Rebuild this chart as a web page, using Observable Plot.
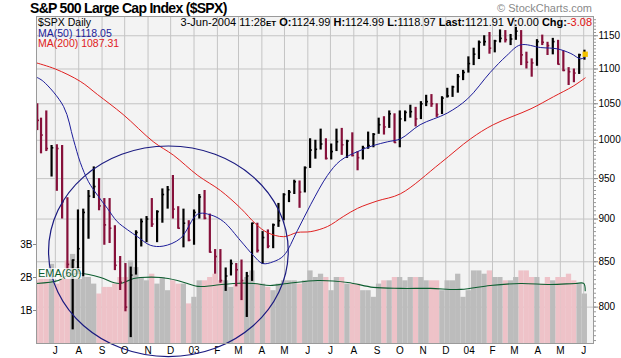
<!DOCTYPE html>
<html><head><meta charset="utf-8">
<script src="https://cdn.jsdelivr.net/npm/d3@7"></script>
<script src="https://cdn.jsdelivr.net/npm/@observablehq/plot@0.6"></script>
<style>
body{margin:0;background:#fff;font-family:"Liberation Sans",Arial,sans-serif;}
#wrap{position:relative;width:621px;height:358px;overflow:hidden;background:#fff;}
#wrap svg{position:absolute;left:0;top:0;}
.t{position:absolute;white-space:nowrap;line-height:1;}
</style></head><body>
<div id="wrap"></div>
<script>
// ---------- data (weekly bars) ----------
const weekDates = ["2002-06-07","2002-06-12","2002-06-19","2002-06-26","2002-07-03","2002-07-10","2002-07-17","2002-07-24","2002-07-31","2002-08-07","2002-08-14","2002-08-21","2002-08-28","2002-09-04","2002-09-11","2002-09-18","2002-09-25","2002-10-02","2002-10-09","2002-10-16","2002-10-23","2002-10-30","2002-11-06","2002-11-13","2002-11-20","2002-11-27","2002-12-04","2002-12-11","2002-12-18","2002-12-25",
"2003-01-01","2003-01-08","2003-01-15","2003-01-22","2003-01-29","2003-02-05","2003-02-12","2003-02-19","2003-02-26","2003-03-05","2003-03-12","2003-03-19","2003-03-26","2003-04-02","2003-04-09","2003-04-16","2003-04-23","2003-04-30","2003-05-07","2003-05-14","2003-05-21","2003-05-28","2003-06-04","2003-06-11","2003-06-18","2003-06-25","2003-07-02","2003-07-09","2003-07-16","2003-07-23","2003-07-30","2003-08-06","2003-08-13","2003-08-20","2003-08-27","2003-09-03","2003-09-10","2003-09-17","2003-09-24","2003-10-01","2003-10-08","2003-10-15","2003-10-22","2003-10-29","2003-11-05","2003-11-12","2003-11-19","2003-11-26","2003-12-03","2003-12-10","2003-12-17","2003-12-24","2003-12-31",
"2004-01-07","2004-01-14","2004-01-21","2004-01-28","2004-02-04","2004-02-11","2004-02-18","2004-02-25","2004-03-03","2004-03-10","2004-03-17","2004-03-24","2004-03-31","2004-04-07","2004-04-14","2004-04-21","2004-04-28","2004-05-05","2004-05-12","2004-05-19","2004-05-26","2004-06-02"];
const weekHigh = [1050,1030,1040,993,994,993,926,852,911,912,935,965,950,925,925,892,856,848,844,886,900,903,925,910,937,940,954,915,912,898,
911,930,935,906,864,864,843,852,848,852,838,895,895,885,887,894,919,931,935,948,947,965,1002,1000,1015,1002,995,1015,1016,1000,1010,985,992,1011,1009,1030,1032,1040,1036,1040,1040,1048,1045,1053,1062,1063,1050,1060,1072,1075,1092,1098,1118,
1131,1142,1150,1155,1143,1159,1158,1152,1163,1158,1125,1115,1144,1151,1140,1146,1143,1127,1102,1100,1122,1128];
const weekLow = [1013,982,985,952,934,900,840,776,837,833,876,925,910,869,871,840,818,795,768,835,867,872,890,872,895,912,900,888,866,873,
869,900,899,860,836,826,817,834,822,807,789,828,860,847,865,865,890,898,920,930,913,932,963,975,987,974,974,985,980,976,978,960,974,988,990,1008,1007,1016,996,990,1025,1030,1018,1028,1046,1045,1031,1035,1058,1059,1065,1083,1094,
1105,1114,1134,1122,1124,1139,1139,1135,1143,1105,1100,1088,1104,1135,1120,1121,1106,1096,1076,1080,1092,1113];
const weekClose = [1027,1007,989,990,989,921,847,852,865,908,928,940,916,893,889,846,827,800,835,884,897,900,894,909,930,936,912,889,895,875,
908,927,901,861,856,829,834,848,841,829,834,895,863,878,868,893,898,930,933,946,933,964,987,988,995,976,985,998,994,999,980,977,990,993,1008,1021,1018,1036,997,1029,1038,1039,1029,1050,1053,1050,1035,1058,1061,1074,1089,1095,1108,
1122,1140,1141,1131,1142,1146,1144,1145,1157,1121,1110,1109,1141,1140,1135,1141,1107,1098,1096,1094,1121,1122];
// volume, billions of shares (visible top of each week's bars)
const weekVolume = [1.9,2.0,2.0,2.4,1.8,2.1,2.5,2.7,2.3,2.0,2.0,1.8,1.5,1.7,1.7,1.8,2.0,2.0,2.5,2.3,2.0,1.9,2.1,1.8,2.0,1.6,1.9,1.8,1.8,1.2,
1.4,1.9,1.9,2.0,2.1,1.9,1.9,1.7,1.8,1.9,2.0,2.2,1.8,1.8,1.7,1.6,1.8,1.9,1.9,1.9,1.8,1.9,2.2,2.0,2.1,2.0,1.6,2.0,2.0,1.8,1.8,1.8,1.6,1.6,1.4,1.8,1.9,1.9,2.0,2.0,1.9,2.0,2.0,2.0,1.9,1.9,1.9,1.6,1.9,1.9,2.1,1.4,1.6,
2.2,2.2,2.1,2.2,2.0,2.0,1.9,1.9,2.0,2.2,2.2,2.0,2.0,1.8,2.0,1.9,2.0,2.0,2.1,1.9,1.8,1.5];

const ma50Dates = ["2002-06-06","2002-06-15","2002-07-12","2002-07-25","2002-08-03","2002-08-14","2002-08-26","2002-09-08","2002-09-21","2002-10-05","2002-10-18","2002-11-04","2002-11-21","2002-12-14","2003-01-06","2003-01-23","2003-02-09","2003-03-04","2003-03-21","2003-04-02","2003-04-16","2003-04-30","2003-05-18","2003-06-05","2003-06-27","2003-07-14","2003-08-06","2003-08-27","2003-09-15","2003-10-02","2003-10-28","2003-12-03","2003-12-30","2004-01-29","2004-02-20","2004-03-09","2004-04-05","2004-04-27","2004-05-15","2004-05-28","2004-06-03"];
const ma50Values = [1088,1082,1046,1001,971,946,929,913,897,887,879,869,868,877,906,905,897,874,857,848,850,857,886,918,954,973,985,993,998,1002,1021,1037,1057,1095,1120,1136,1132,1130,1123,1115,1118];

const ma200Dates = ["2002-06-06","2002-07-01","2002-08-03","2002-08-26","2002-09-29","2002-11-08","2002-12-05","2003-01-06","2003-02-05","2003-03-04","2003-03-24","2003-04-08","2003-04-30","2003-05-18","2003-06-05","2003-06-27","2003-07-18","2003-08-06","2003-09-01","2003-10-02","2003-11-24","2004-01-03","2004-02-02","2004-03-23","2004-04-22","2004-05-18","2004-06-03"];
const ma200Values = [1109,1100,1082,1063,1035,998,980,954,935,913,894,884,879,884,885,891,903,913,922,931,970,1002,1021,1043,1060,1075,1087];

const emaDates = ["2002-06-06","2002-07-05","2002-07-17","2002-08-03","2002-08-30","2002-09-16","2002-09-25","2002-10-13","2002-10-22","2002-11-18","2002-12-10","2003-01-06","2003-01-27","2003-02-22","2003-03-21","2003-04-12","2003-05-05","2003-06-14","2003-07-24","2003-08-27","2003-10-02","2003-11-11","2003-12-21","2004-01-29","2004-03-09","2004-04-18","2004-05-21","2004-06-01","2004-06-03"];
const emaValues = [1.82,1.91,2.06,2.12,2.00,1.85,1.82,1.97,2.00,2.00,1.91,1.73,1.76,1.82,1.82,1.76,1.82,1.91,1.85,1.70,1.67,1.67,1.64,1.76,1.82,1.79,1.82,1.82,1.60];

const priceTicks = [800,850,900,950,1000,1050,1100,1150];
const volumeTicks = [1,2,3];
const volumeTickLabels = ["1B","2B","3B"];
const monthTicks = ["2002-07-01","2002-08-01","2002-09-01","2002-10-01","2002-11-01","2002-12-01","2003-01-01","2003-02-01","2003-03-01","2003-04-01","2003-05-01","2003-06-01","2003-07-01","2003-08-01","2003-09-01","2003-10-01","2003-11-01","2003-12-01","2004-01-01","2004-02-01","2004-03-01","2004-04-01","2004-05-01","2004-06-01"];
const monthLabels = ["J","A","S","O","N","D","03","F","M","A","M","J","J","A","S","O","N","D","04","F","M","A","M","J"];
const circleCenter = {date:"2002-11-28", price:862};
const lastQuote = {date:"2004-06-03", price:1121.91};

// ---------- build ----------
const weekly = weekDates.map((d,i)=>({date:new Date(d),hi:weekHigh[i],lo:weekLow[i],close:weekClose[i],vol:weekVolume[i],
  up: i>0 ? weekClose[i] > weekClose[i-1] : false}));
const ma50 = ma50Dates.map((d,i)=>({date:new Date(d),v:ma50Values[i]}));
const ma200 = ma200Dates.map((d,i)=>({date:new Date(d),v:ma200Values[i]}));
const ema = emaDates.map((d,i)=>({date:new Date(d),v:emaValues[i]}));
const monthDates = monthTicks.map(d=>new Date(d));
const minorTicks = d3.range(765,1180,5);

const W=621,H=358;
const base = {width:W,height:H,marginTop:16,marginBottom:15,marginLeft:36,marginRight:28,
  style:{background:"transparent",fontFamily:"'Liberation Sans',Arial,sans-serif",fontSize:"10px",color:"#000",overflow:"visible"}};
const xScale = {type:"utc",domain:[new Date("2002-06-06"),new Date("2004-06-14")],axis:null};
const yPrice = {type:"log",domain:[762,1180],axis:null};
const yVol = {type:"linear",domain:[0,9.91],axis:null};

const layer1 = Plot.plot({...base,x:xScale,y:yPrice,marks:[
  Plot.frame({fill:"#f3f3f3",stroke:null}),
  Plot.ruleY(priceTicks,{stroke:"#c4c4c4"}),
  Plot.ruleX(monthDates,{stroke:"#c4c4c4"}),
  Plot.axisY(minorTicks,{anchor:"right",tickSize:2,tickFormat:()=>"",stroke:"#999",label:null}),
  Plot.axisY(priceTicks,{anchor:"right",tickSize:4,tickPadding:1,tickFormat:d=>String(d),fontSize:10,stroke:"#888",label:null}),
  Plot.axisX(monthDates,{anchor:"bottom",tickSize:0,tickPadding:3,fontSize:10,label:null,
    tickFormat:d=>monthLabels[monthDates.findIndex(t=>+t===+d)]})
]});

const weekStart = d=>d3.utcWeek.floor(d.date);
const weekEnd = d=>d3.utcWeek.offset(d3.utcWeek.floor(d.date),1);
const layer2 = Plot.plot({...base,x:xScale,y:yVol,marks:[
  Plot.rect(weekly,{filter:d=>!d.up,x1:weekStart,x2:weekEnd,y1:0,y2:"vol",fill:"#eec2c8",clip:true}),
  Plot.rect(weekly,{filter:d=>d.up,x1:weekStart,x2:weekEnd,y1:0,y2:"vol",fill:"#bcbcbc",clip:true}),
  Plot.line(ema,{x:"date",y:"v",stroke:"#0d5e30",strokeWidth:1.1,curve:"catmull-rom"}),
  Plot.axisY(volumeTicks,{anchor:"left",tickSize:3,tickPadding:1,fontSize:10,stroke:"#888",label:null,
    tickFormat:d=>volumeTickLabels[volumeTicks.indexOf(d)]})
]});

const ellipse = {draw(ctx,size){const r=Math.sqrt(size/Math.PI);const rx=r*1.07,ry=r*0.94,k=0.5523;
  ctx.moveTo(rx,0);ctx.bezierCurveTo(rx,ry*k,rx*k,ry,0,ry);ctx.bezierCurveTo(-rx*k,ry,-rx,ry*k,-rx,0);
  ctx.bezierCurveTo(-rx,-ry*k,-rx*k,-ry,0,-ry);ctx.bezierCurveTo(rx*k,-ry,rx,-ry*k,rx,0);ctx.closePath();}};

const closeTickEnd = d=>d3.utcDay.offset(d.date,3);
const layer3 = Plot.plot({...base,x:xScale,y:yPrice,marks:[
  Plot.ruleX(weekly,{filter:d=>!d.up,x:"date",y1:"lo",y2:"hi",stroke:"#86103a",strokeWidth:2.2}),
  Plot.ruleX(weekly,{filter:d=>d.up,x:"date",y1:"lo",y2:"hi",stroke:"#000",strokeWidth:2.2}),
  Plot.ruleY(weekly,{filter:d=>!d.up,x1:"date",x2:closeTickEnd,y:"close",stroke:"#86103a",strokeWidth:1.6}),
  Plot.ruleY(weekly,{filter:d=>d.up,x1:"date",x2:closeTickEnd,y:"close",stroke:"#000",strokeWidth:1.6}),
  Plot.line(ma200,{x:"date",y:"v",stroke:"#e02020",strokeWidth:1,curve:"catmull-rom"}),
  Plot.line(ma50,{x:"date",y:"v",stroke:"#1d1d9a",strokeWidth:1,curve:"catmull-rom"}),
  Plot.dot([circleCenter],{x:d=>new Date(d.date),y:"price",r:112,symbol:ellipse,fill:"none",stroke:"#1a1a80",strokeWidth:1.2}),
  Plot.dot([lastQuote],{x:d=>new Date(d.date),y:"price",r:3,symbol:"square",fill:"#f2c200",stroke:null}),
  Plot.frame({stroke:"#9a9a9a"})
]});

const wrap = document.getElementById("wrap");
wrap.append(layer1,layer2,layer3);

function addText(html,css){const s=document.createElement("div");s.className="t";s.innerHTML=html;Object.assign(s.style,css);wrap.append(s);}
addText("S&amp;P 500 Large Cap Index ($SPX)",{left:"30px",top:"1px",fontWeight:"bold",fontSize:"14px",letterSpacing:"-0.7px",color:"#000"});
addText("© StockCharts.com",{right:"29px",top:"3px",fontSize:"11px",color:"#8a8a8a"});
addText("$SPX Daily",{left:"38px",top:"17px",fontSize:"10.5px",color:"#000"});
addText("3-Jun-2004 11:28<b style='font-size:8px'>ET</b> <b>O:</b>1124.99 <b>H:</b>1124.99 <b>L:</b>1118.97 <b>Last:</b>1121.91 <b>V:</b>0.00 <b>Chg:</b><span style='color:#e01010'>-3.08</span>",
  {right:"29px",top:"17px",fontSize:"11px",color:"#000"});
addText("MA(50) 1118.05",{left:"38px",top:"27.5px",fontSize:"10.5px",color:"#1d1d9a"});
addText("MA(200) 1087.31",{left:"38px",top:"38px",fontSize:"10.5px",color:"#e02020"});
addText("EMA(60)",{left:"37px",top:"268px",fontSize:"11px",color:"#0d5e30",background:"rgba(255,255,255,0.75)",padding:"0 1px"});
</script>
</body></html>
